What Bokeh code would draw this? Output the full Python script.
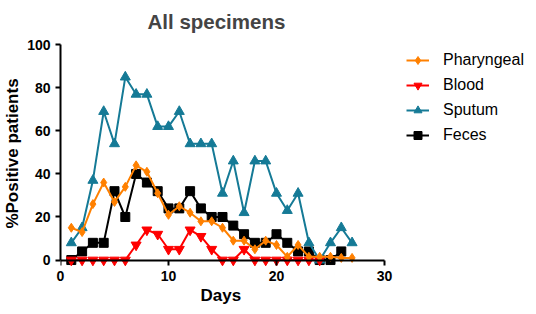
from bokeh.plotting import figure
from bokeh.models import Range1d, Legend, LegendItem, FixedTicker, LinearAxis, Title
from bokeh.embed import file_html
from bokeh.resources import INLINE

days = list(range(1, 28))
pharyngeal = [15, 13, 26, 36, 27, 34, 44, 41, 31, 21, 25, 22, 18, 18, 15, 9, 9, 5, 9, 7, 1.5, 7, 1.5, 1.5, 1.5, 1, 1]
blood_days = list(range(1, 25))
blood = [0, 0, 0, 0, 0, 0, 7, 14, 12, 5, 5, 14, 11, 5, 0, 0, 5, 0, 0, 0, 0, 0, 0, 0]
sputum = [8, 15, 37, 69, 54, 85, 77, 77, 62, 62, 69, 54, 54, 54, 31, 46, 22, 46, 46, 31, 23, 31, 8, 0, 8, 15, 8]
feces_days = list(range(1, 27))
feces = [0, 4, 8, 8, 32, 20, 40, 36, 32, 24, 24, 32, 24, 20, 20, 16, 12, 8, 8, 12, 8, 4, 4, 0, 0, 4]

x_ticks = [0, 10, 20, 30]
y_ticks = [0, 20, 40, 60, 80, 100]

FONT = "Liberation Sans"
ORANGE = "#FF8000"
RED = "#FF0000"
TEAL = "#157A96"
BLACK = "#000000"

p = figure(frame_width=466, frame_height=226,
           x_range=Range1d(0, 43.15), y_range=Range1d(-3, 102),
           output_backend="svg", toolbar_location=None,
           min_border_left=0, min_border_right=0,
           min_border_top=0, min_border_bottom=0)

p.title.text = "All specimens"
p.title.align = "left"
p.title.offset = 87
p.title.text_font = FONT
p.title.text_font_size = "20.5px"
p.title.text_font_style = "bold"
p.title.standoff = 15

p.xgrid.visible = False
p.ygrid.visible = False
p.outline_line_color = None


def style(ax):
    ax.axis_line_width = 2
    ax.axis_line_color = "black"
    ax.major_tick_line_width = 2
    ax.major_tick_line_color = "black"
    ax.major_tick_out = 5
    ax.major_tick_in = 0
    ax.minor_tick_line_color = None
    ax.major_label_text_font = FONT
    ax.major_label_text_font_size = "14px"
    ax.major_label_text_font_style = "bold"
    ax.major_label_text_color = "black"
    ax.axis_label_text_font = FONT
    ax.axis_label_text_font_size = "17px"
    ax.axis_label_text_font_style = "bold"
    ax.axis_label_text_color = "black"


# bottom axis: only the tick labels
xa = p.xaxis[0]
style(xa)
xa.ticker = FixedTicker(ticks=x_ticks)
xa.bounds = (0, 30)
xa.axis_line_color = None
xa.major_tick_line_color = None
xa.major_tick_out = 0
xa.major_label_standoff = 4

# x axis title, centred under the 0..30 axis
days_title = Title(text="Days", align="left", offset=140, standoff=0,
                   text_font=FONT, text_font_size="17px", text_font_style="bold",
                   text_color="black")
p.add_layout(days_title, "below")

# x axis line and ticks at y = 0
x0 = LinearAxis(ticker=FixedTicker(ticks=x_ticks), bounds=(0, 30), fixed_location=0)
style(x0)
x0.major_tick_out = 0
x0.major_tick_in = 5
x0.major_label_text_font_size = "1px"
x0.major_label_text_color = None
x0.major_label_standoff = 0
x0.axis_label = None
p.add_layout(x0, "above")

ya = p.yaxis[0]
style(ya)
ya.ticker = FixedTicker(ticks=y_ticks)
ya.bounds = (0, 100)
ya.axis_label = "%Positive patients"
ya.major_label_standoff = 5
ya.axis_label_standoff = 2

fl = p.line(feces_days, feces, line_color=BLACK, line_width=2)
fs = p.scatter(feces_days, feces, marker="square", size=9, color=BLACK)
sl = p.line(days, sputum, line_color=TEAL, line_width=2)
ss = p.scatter(days, sputum, marker="triangle", size=10, color=TEAL)
bl = p.line(blood_days, blood, line_color=RED, line_width=2)
bs = p.scatter(blood_days, blood, marker="inverted_triangle", size=10, color=RED)
pl = p.line(days, pharyngeal, line_color=ORANGE, line_width=2)
ps = p.scatter(days, pharyngeal, marker="diamond", size=9, color=ORANGE)

legend = Legend(items=[
    LegendItem(label="Pharyngeal", renderers=[pl, ps]),
    LegendItem(label="Blood", renderers=[bl, bs]),
    LegendItem(label="Sputum", renderers=[sl, ss]),
    LegendItem(label="Feces", renderers=[fl, fs]),
])
legend.location = (346, 121.5)
legend.border_line_color = None
legend.background_fill_alpha = 0
legend.label_text_font = FONT
legend.label_text_font_size = "16px"
legend.label_text_color = "black"
legend.glyph_width = 23
legend.glyph_height = 20
legend.label_height = 20
legend.spacing = 5
legend.padding = 0
legend.margin = 0
legend.label_standoff = 14
p.add_layout(legend)

open("out.html", "w").write(file_html(p, INLINE))
